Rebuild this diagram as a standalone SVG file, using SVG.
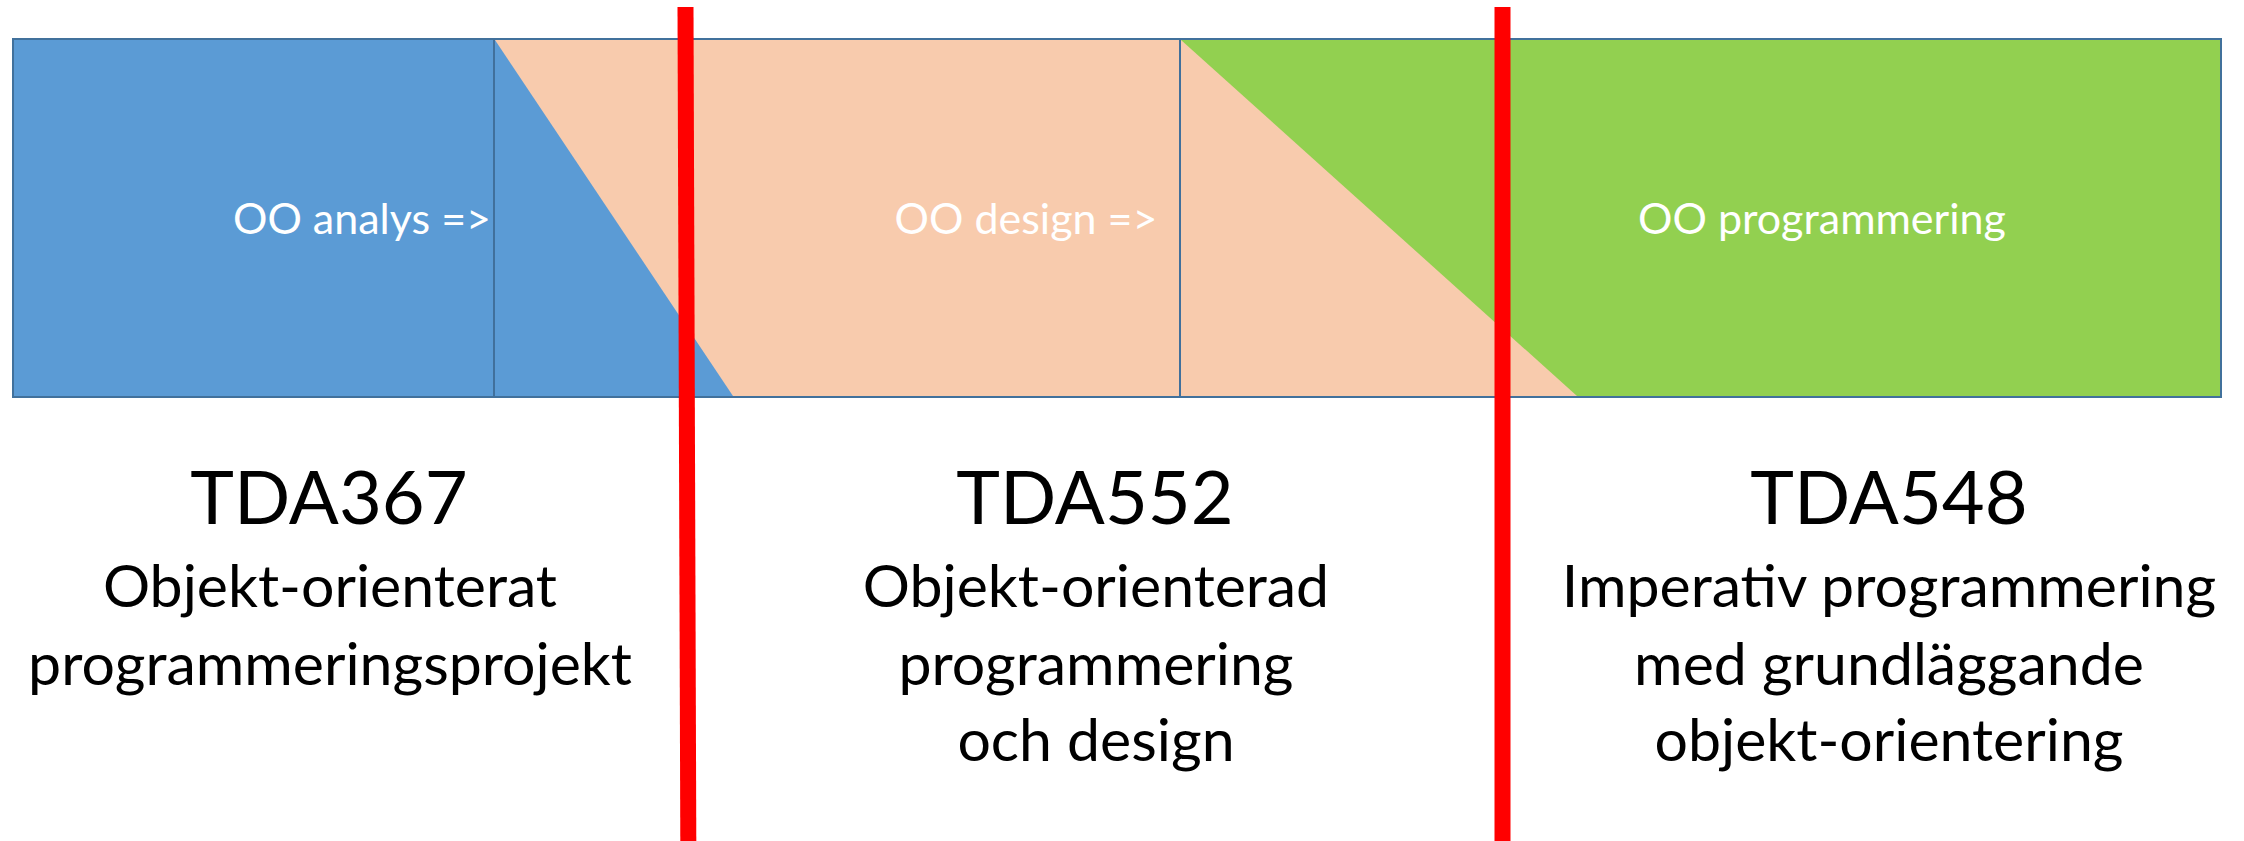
<svg xmlns="http://www.w3.org/2000/svg" width="2244" height="841" viewBox="0 0 2244 841">
  <style>
    .seg { stroke: #41719C; stroke-width: 2; }
    .blue { fill: #5B9BD5; }
    .peach { fill: #F8CBAD; }
    .green { fill: #92D050; }
    .divline { stroke: #41719C; stroke-width: 1.2; fill: none; }
    .bar-label { font-family: Lato, "Open Sans", "Liberation Sans", sans-serif; font-size: 43px; fill: #FFFFFF; text-anchor: middle; }
    .title { font-family: Lato, "Open Sans", "Liberation Sans", sans-serif; font-size: 74px; fill: #000000; text-anchor: middle; }
    .sub { font-family: Lato, "Open Sans", "Liberation Sans", sans-serif; font-size: 59px; fill: #000000; text-anchor: middle; }
    .redline { stroke: #FF0000; stroke-width: 16; fill: none; }
  </style>

  <g id="bar">
    <g id="phase-analys">
      <rect class="seg blue" x="13" y="39" width="481" height="358"/>
      <text class="bar-label" x="362" y="234">OO analys =&gt;</text>
    </g>
    <g id="phase-design">
      <rect class="seg peach" x="494" y="39" width="686" height="358"/>
      <polygon class="blue" points="495,40 733,396 495,396"/>
      <text class="bar-label" x="1026" y="234">OO design =&gt;</text>
    </g>
    <g id="phase-programmering">
      <rect class="seg green" x="1180" y="39" width="1041" height="358"/>
      <polygon class="peach" points="1181,40 1577,396 1181,396"/>
      <text class="bar-label" x="1822" y="234">OO programmering</text>
    </g>
    <line class="divline" x1="494" y1="39" x2="494" y2="397"/>
    <line class="divline" x1="1180" y1="39" x2="1180" y2="397"/>
  </g>

  <g id="course-tda367">
    <text class="title" x="329" y="524">TDA367</text>
    <text class="sub" x="330" y="607">Objekt-orienterat</text>
    <text class="sub" x="330" y="685">programmeringsprojekt</text>
  </g>

  <g id="course-tda552">
    <text class="title" x="1095" y="524">TDA552</text>
    <text class="sub" x="1096" y="607">Objekt-orienterad</text>
    <text class="sub" x="1096" y="685">programmering</text>
    <text class="sub" x="1096" y="761">och design</text>
  </g>

  <g id="course-tda548">
    <text class="title" x="1889" y="524">TDA548</text>
    <text class="sub" x="1889" y="607">Imperativ programmering</text>
    <text class="sub" x="1889" y="685">med grundläggande</text>
    <text class="sub" x="1889" y="761">objekt-orientering</text>
  </g>

  <g id="connectors">
    <line class="redline" x1="685.5" y1="7" x2="688.3" y2="841"/>
    <line class="redline" x1="1502.5" y1="7" x2="1502.5" y2="841"/>
  </g>
</svg>
